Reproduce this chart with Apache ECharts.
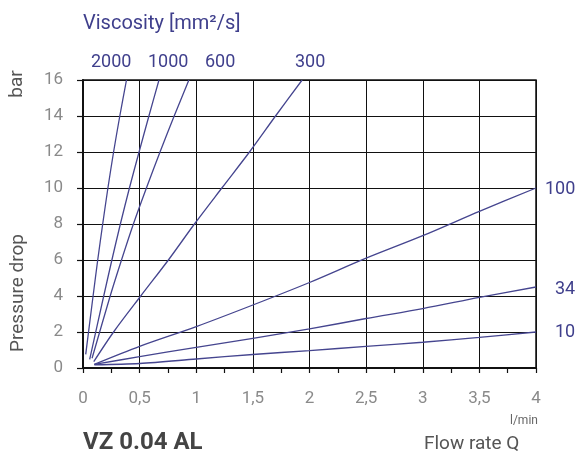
<!DOCTYPE html>
<html>
<head>
<meta charset="utf-8">
<title>VZ 0.04 AL</title>
<script src="https://cdn.jsdelivr.net/npm/echarts@6/dist/echarts.min.js"></script>
<style>
  body { margin: 0; background: #fff; }
</style>
</head>
<body>
<div id="main" style="width: 579px;height:454px;"></div>
<script>
// viscosity curves, [flow l/min, pressure drop bar]
var visc2000 = [[0.024, 0.76], [0.089, 4], [0.13, 6], [0.174, 8], [0.22, 10], [0.27, 12], [0.325, 14], [0.384, 16]];
var visc1000 = [[0.059, 0.48], [0.183, 4], [0.255, 6], [0.33, 8], [0.41, 10], [0.495, 12], [0.582, 14], [0.671, 16]];
var visc600 = [[0.08, 0.54], [0.24, 4], [0.34, 6], [0.445, 8], [0.56, 10], [0.68, 12], [0.805, 14], [0.935, 16]];
var visc300 = [[0.095, 0.35], [0.27, 2], [0.51, 4], [0.754, 6], [0.984, 8], [1.226, 10], [1.47, 12], [1.70, 14], [1.935, 16]];
var visc100 = [[0.1, 0.2], [0.5, 1.2], [1, 2.3], [1.5, 3.5], [2, 4.75], [2.5, 6.1], [3, 7.35], [3.5, 8.7], [4, 10]];
var visc34 = [[0.1, 0.2], [0.5, 0.63], [1, 1.15], [1.5, 1.65], [2, 2.17], [2.5, 2.75], [3, 3.3], [3.5, 3.92], [4, 4.5]];
var visc10 = [[0.1, 0.18], [0.5, 0.25], [1, 0.5], [1.5, 0.75], [2, 0.97], [2.5, 1.2], [3, 1.43], [3.5, 1.7], [4, 2.0]];

var seriesNames = ['2000', '1000', '600', '300', '100', '34', '10'];
var seriesData = [visc2000, visc1000, visc600, visc300, visc100, visc34, visc10];

var xTickLabels = ['0', '0,5', '1', '1,5', '2', '2,5', '3', '3,5', '4'];

var lineColor = '#45458f';
var textBlue = '#3f3f8c';
var font = 'Roboto';

var series = [];
for (var i = 0; i < seriesData.length; i++) {
  series.push({
    name: seriesNames[i],
    type: 'line',
    data: seriesData[i],
    showSymbol: false,
    smooth: 0.3,
    lineStyle: { color: lineColor, width: 1.3 },
    silent: true
  });
}

// small helper for the free texts
function txt(text, x, y, size, color, extra) {
  var t = {
    type: 'text', x: x, y: y,
    style: { text: text, fill: color, font: size + 'px ' + font, align: 'left', verticalAlign: 'middle' }
  };
  if (extra) {
    for (var k in extra) t[k] = extra[k];
  }
  return t;
}

var option = {
  animation: false,
  grid: {
    left: 83,
    right: 43,
    top: 80,
    bottom: 86,
    show: true,
    borderColor: '#111',
    borderWidth: 1.5
  },
  xAxis: {
    type: 'value',
    min: 0,
    max: 4,
    interval: 0.5,
    axisLine: { show: true, lineStyle: { color: '#111', width: 2 } },
    axisTick: { show: true, inside: false, length: 5, lineStyle: { color: '#111', width: 1.2 } },
    minorTick: { show: true, splitNumber: 2, length: 5, lineStyle: { color: '#111', width: 1.2 } },
    splitLine: { show: true, lineStyle: { color: '#111', width: 1 } },
    axisLabel: {
      color: '#8a8a8a',
      fontFamily: font,
      fontSize: 17,
      margin: 22,
      formatter: function (v) { return xTickLabels[Math.round(v / 0.5)]; }
    }
  },
  yAxis: {
    type: 'value',
    min: 0,
    max: 16,
    interval: 2,
    axisLine: { show: true, lineStyle: { color: '#111', width: 2 } },
    axisTick: { show: true, length: 6, lineStyle: { color: '#111', width: 1.2 } },
    splitLine: { show: true, lineStyle: { color: '#111', width: 1 } },
    axisLabel: { color: '#8a8a8a', fontFamily: font, fontSize: 17, margin: 20 }
  },
  // texts round the plot
  graphic: [
    txt('Viscosity [mm²/s]', 83, 24, 20, textBlue),
    txt('2000', 91, 62, 18, textBlue),
    txt('1000', 148, 62, 18, textBlue),
    txt('600', 205, 62, 18, textBlue),
    txt('300', 295, 62, 18, textBlue),
    txt('100', 545, 189, 18, textBlue),
    txt('34', 555, 289, 18, textBlue),
    txt('10', 555, 332, 18, textBlue),
    { type: 'text', x: 18, y: 293, rotation: Math.PI / 2,
      style: { text: 'Pressure drop', fill: '#555', font: '19px ' + font, align: 'center', verticalAlign: 'middle' } },
    { type: 'text', x: 17, y: 84, rotation: Math.PI / 2,
      style: { text: 'bar', fill: '#555', font: '19px ' + font, align: 'center', verticalAlign: 'middle' } },
    txt('l/min', 510, 421, 12, '#666'),
    { type: 'text', x: 83, y: 443,
      style: { text: 'VZ 0.04 AL', fill: '#444', font: 'bold 24px ' + font, align: 'left', verticalAlign: 'middle' } },
    txt('Flow rate Q', 424, 444, 19, '#555')
  ],
  series: series
};

var myChart = echarts.init(document.getElementById('main'));
myChart.setOption(option);
</script>
</body>
</html>
